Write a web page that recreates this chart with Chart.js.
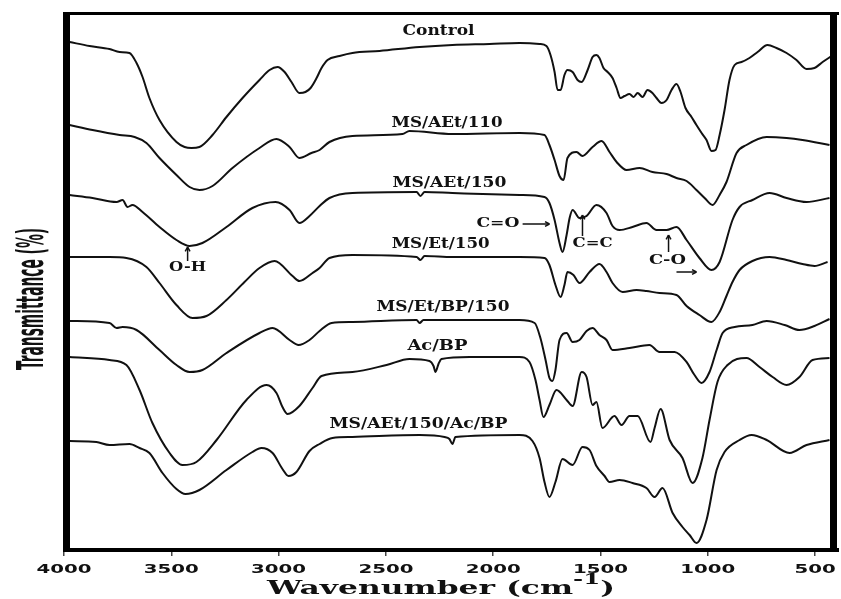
<!DOCTYPE html>
<html><head><meta charset="utf-8">
<script src="https://cdn.jsdelivr.net/npm/chart.js@4/dist/chart.umd.min.js"></script>
<style>html,body{margin:0;padding:0;background:#fff;overflow:hidden}#wrap{width:841px;height:599px}</style>
</head><body><div id="wrap"><canvas id="c" width="841" height="599" style="width:841px;height:599px"></canvas></div>
<script>
// ---- axis ticks ----
const tickValues = [4000, 3500, 3000, 2500, 2000, 1500, 1000, 500];
const tickLabels = ['4000', '3500', '3000', '2500', '2000', '1500', '1000', '500'];
const seriesNames = ['Control', 'MS/AEt/110', 'MS/AEt/150', 'MS/Et/150', 'MS/Et/BP/150', 'Ac/BP', 'MS/AEt/150/Ac/BP'];

// ---- series (wavenumber, offset transmittance) ----
const controlWn = [3974,3881,3788,3741,3695,3662,3634,3602,3555,3476,3438,3406,3369,3308,3243,3168,3089,3042,3005,2972,2940,2903,2875,2851,2823,2800,2772,2716,2656,2530,2343,2190,2017,1877,1784,1752,1733,1714,1700,1686,1668,1654,1630,1607,1588,1560,1537,1519,1505,1486,1467,1444,1425,1407,1388,1365,1346,1327,1304,1281,1258,1239,1216,1192,1169,1146,1127,1104,1076,1053,1029,1006,983,964,945,922,899,875,843,806,768,722,680,633,587,540,503,465,423];
const controlT = [508,504,501,498,497,487,473,452,430,408,403,402,403,415,433,452,470,480,483,478,468,457,458,462,472,482,490,494,497,499,503,505,506,507,506,504,495,478,460,460,475,480,478,470,468,480,493,495,492,482,478,472,462,452,454,456,453,457,453,460,457,452,447,450,460,466,458,442,433,425,417,410,399,400,415,440,470,485,488,492,498,505,502,497,490,481,482,488,494];

const aet110Wn = [3974,3867,3741,3671,3616,3555,3476,3415,3369,3308,3215,3089,3010,2949,2903,2847,2809,2763,2656,2423,2390,2190,1877,1761,1738,1714,1691,1672,1654,1612,1584,1537,1495,1458,1425,1379,1318,1258,1192,1146,1099,1053,1015,978,945,913,866,820,726,633,559,433];
const aet110T = [425,420,415,413,407,392,375,363,360,364,382,402,411,403,392,397,400,408,414,416,419,416,417,415,405,390,374,370,392,398,394,403,409,398,388,380,382,378,376,372,369,360,352,345,355,368,397,405,413,412,410,405];

const aet150Wn = [3974,3867,3755,3727,3704,3681,3634,3555,3476,3415,3355,3243,3122,3014,2949,2903,2856,2809,2763,2656,2357,2339,2320,2190,1877,1761,1738,1714,1691,1677,1658,1644,1630,1598,1565,1519,1472,1444,1411,1351,1286,1239,1192,1146,1099,1039,983,945,885,852,792,712,633,540,433];
const aet150T = [355,352,348,350,343,345,338,323,310,304,307,323,342,348,340,327,334,344,352,357,358,354,358,357,355,353,347,330,307,298,315,332,340,332,334,345,337,324,320,323,327,320,320,323,310,292,280,288,330,343,350,357,352,348,352];

const et150Wn = [3974,3788,3709,3616,3555,3476,3401,3336,3243,3159,3089,3019,2935,2903,2842,2809,2763,2656,2357,2339,2320,2190,1877,1761,1738,1710,1686,1668,1654,1626,1598,1551,1505,1472,1444,1397,1332,1286,1225,1146,1099,1039,983,945,913,885,852,792,712,633,559,503,442];
const et150T = [293,293,292,283,267,245,232,234,250,268,282,289,274,269,277,282,292,295,293,290,294,293,293,292,285,265,253,265,278,275,267,278,286,278,267,258,260,259,257,255,244,235,228,238,254,268,280,289,293,290,286,284,288];

const etBp150Wn = [3974,3788,3755,3727,3662,3555,3476,3415,3355,3243,3089,3028,2949,2907,2856,2809,2753,2656,2357,2343,2325,2190,1877,1807,1780,1756,1738,1724,1710,1691,1658,1630,1598,1565,1537,1505,1472,1444,1365,1272,1225,1155,1099,1062,1029,992,959,931,875,792,726,642,573,503,433];
const etBp150T = [229,227,222,223,220,200,185,178,180,197,217,222,210,205,210,219,227,228,230,227,230,230,230,227,212,190,172,169,180,210,217,208,210,219,222,215,210,200,202,205,198,198,188,175,167,178,200,217,223,225,229,225,220,224,231];

const acBpWn = [3974,3788,3709,3648,3588,3508,3448,3383,3289,3150,3056,3010,2982,2958,2903,2842,2800,2656,2497,2390,2297,2278,2269,2255,2241,2110,1877,1831,1803,1784,1766,1738,1705,1658,1630,1588,1565,1537,1519,1491,1435,1402,1365,1327,1267,1248,1220,1178,1118,1071,1025,992,955,908,820,759,698,633,573,512,433];
const acBpT = [193,190,185,160,127,97,85,88,110,150,165,157,143,136,144,162,174,178,185,191,189,184,178,186,191,193,193,188,170,150,133,145,160,150,144,178,173,145,148,122,134,125,134,134,108,122,141,110,92,67,92,130,168,185,192,183,173,165,173,190,192];

const aetAcBpWn = [3974,3849,3788,3695,3648,3602,3541,3476,3434,3369,3243,3122,3080,3028,2982,2954,2917,2856,2809,2749,2656,2343,2227,2204,2190,2176,1877,1817,1784,1761,1738,1710,1677,1630,1584,1551,1519,1481,1458,1411,1351,1286,1248,1211,1164,1118,1085,1053,1006,959,922,852,796,726,619,540,433];
const aetAcBpT = [109,108,105,106,102,97,77,61,56,60,80,98,102,97,81,74,78,99,106,112,113,115,113,111,106,113,115,109,92,68,53,68,91,85,103,100,84,74,68,70,67,62,53,62,37,23,15,7,30,80,98,110,115,110,97,105,110];

const seriesWn = [controlWn, aet110Wn, aet150Wn, et150Wn, etBp150Wn, acBpWn, aetAcBpWn];
const seriesT = [controlT, aet110T, aet150T, et150T, etBp150T, acBpT, aetAcBpT];

// ---- text annotations (data coordinates) ----
const curveLabels = [
  {text: 'Control', wn: 2255, t: 519, w: 72},
  {text: 'MS/AEt/110', wn: 2215, t: 427, w: 111},
  {text: 'MS/AEt/150', wn: 2204, t: 367, w: 114},
  {text: 'MS/Et/150', wn: 2245, t: 306, w: 98},
  {text: 'MS/Et/BP/150', wn: 2234, t: 243, w: 133},
  {text: 'Ac/BP', wn: 2260, t: 204, w: 60},
  {text: 'MS/AEt/150/Ac/BP', wn: 2348, t: 126, w: 178}
];
const bandLabels = [
  {text: 'O-H', wn: 3424, t: 282, w: 37},
  {text: 'C=O', wn: 1978, t: 326, w: 43},
  {text: 'C=C', wn: 1537, t: 306, w: 40},
  {text: 'C-O', wn: 1188, t: 289, w: 37}
];
const bandArrows = [
  {wn1: 3424, t1: 289, wn2: 3424, t2: 303},
  {wn1: 1863, t1: 326, wn2: 1738, t2: 326},
  {wn1: 1584, t1: 314, wn2: 1584, t2: 335},
  {wn1: 1183, t1: 298, wn2: 1183, t2: 315},
  {wn1: 1146, t1: 278, wn2: 1053, t2: 278}
];

const datasets = seriesNames.map((name, i) => ({
  label: name,
  data: seriesWn[i].map((wn, j) => ({x: wn, y: seriesT[i][j]})),
  borderColor: '#111',
  borderWidth: 2,
  pointRadius: 0,
  fill: false,
  cubicInterpolationMode: 'monotone'
}));

function stretchText(ctx, text, cx, cy, font, targetW) {
  ctx.save();
  ctx.font = font;
  const w = ctx.measureText(text).width;
  ctx.translate(cx, cy);
  ctx.scale(targetW / w, 1);
  ctx.textAlign = 'center';
  ctx.textBaseline = 'middle';
  ctx.fillText(text, 0, 0);
  ctx.restore();
}

const framePlugin = {
  id: 'frame',
  afterDatasetsDraw(chart) {
    const {ctx, chartArea: a} = chart;
    ctx.save();
    ctx.fillStyle = '#000';
    ctx.fillRect(a.left - 1, a.top - 1, 7, a.bottom - a.top + 3);
    ctx.fillRect(a.right - 4, a.top - 1, 7, a.bottom - a.top + 3);
    ctx.fillRect(a.left - 1, a.top - 1, a.right - a.left + 6, 3);
    ctx.fillRect(a.left - 1, a.bottom - 2, a.right - a.left + 6, 4);
    ctx.restore();
  }
};

const textPlugin = {
  id: 'texts',
  afterDraw(chart) {
    const {ctx} = chart;
    const xs = chart.scales.x, ys = chart.scales.y;
    ctx.save();
    ctx.fillStyle = '#111';
    // tick labels
    ctx.font = 'bold 12px "DejaVu Sans"';
    const sx = 55 / ctx.measureText('4000').width;
    xs.ticks.forEach((tk) => {
      const idx = tickValues.indexOf(tk.value);
      if (idx < 0) return;
      const px = xs.getPixelForValue(tk.value);
      ctx.save();
      ctx.translate(px, 573);
      ctx.scale(sx, 1);
      ctx.textAlign = 'center';
      ctx.textBaseline = 'alphabetic';
      ctx.fillText(tickLabels[idx], 0, 0);
      ctx.restore();
    });
    // x title
    ctx.save();
    const f1 = 'bold 18px "DejaVu Serif"', f2 = 'bold 14px "DejaVu Serif"';
    ctx.font = f1;
    const p1 = 'Wavenumber (cm', p3 = ')';
    const w1 = ctx.measureText(p1).width, w3 = ctx.measureText(p3).width;
    ctx.font = f2;
    const w2 = ctx.measureText('-1').width;
    const k = 348 / (w1 + w2 + w3);
    ctx.translate(267, 594);
    ctx.scale(k, 1);
    ctx.textAlign = 'left';
    ctx.textBaseline = 'alphabetic';
    ctx.font = f1; ctx.fillText(p1, 0, 0);
    ctx.font = f2; ctx.fillText('-1', w1, -10);
    ctx.font = f1; ctx.fillText(p3, w1 + w2, 0);
    ctx.restore();
    // y title
    ctx.save();
    ctx.font = 'bold 38px "DejaVu Sans Condensed", "DejaVu Sans"';
    const yt = 'Transmittance (%)';
    const wy = ctx.measureText(yt).width;
    ctx.translate(43, 299);
    ctx.rotate(-Math.PI / 2);
    ctx.scale(142 / wy, 1);
    ctx.textAlign = 'center';
    ctx.textBaseline = 'alphabetic';
    ctx.fillText(yt, 0, 0);
    ctx.restore();
    // curve labels
    curveLabels.forEach(l => stretchText(ctx, l.text, xs.getPixelForValue(l.wn), ys.getPixelForValue(l.t), 'bold 14px "DejaVu Serif"', l.w));
    bandLabels.forEach(l => stretchText(ctx, l.text, xs.getPixelForValue(l.wn), ys.getPixelForValue(l.t), 'bold 13px "DejaVu Serif"', l.w));
    // arrows
    ctx.strokeStyle = '#111';
    ctx.lineWidth = 1.5;
    bandArrows.forEach(a => {
      const x1 = xs.getPixelForValue(a.wn1), y1 = ys.getPixelForValue(a.t1);
      const x2 = xs.getPixelForValue(a.wn2), y2 = ys.getPixelForValue(a.t2);
      ctx.beginPath(); ctx.moveTo(x1, y1); ctx.lineTo(x2, y2); ctx.stroke();
      const ang = Math.atan2(y2 - y1, x2 - x1), h = 5;
      ctx.beginPath();
      ctx.moveTo(x2, y2);
      ctx.lineTo(x2 - h * Math.cos(ang - 0.5), y2 - h * Math.sin(ang - 0.5));
      ctx.moveTo(x2, y2);
      ctx.lineTo(x2 - h * Math.cos(ang + 0.5), y2 - h * Math.sin(ang + 0.5));
      ctx.stroke();
    });
    ctx.restore();
  }
};

new Chart(document.getElementById('c'), {
  type: 'line',
  data: {datasets},
  options: {
    responsive: false,
    animation: false,
    devicePixelRatio: 1,
    layout: {padding: {left: 64, top: 13, right: 7, bottom: 0}},
    plugins: {legend: {display: false}, tooltip: {enabled: false}},
    scales: {
      x: {
        type: 'linear',
        reverse: true,
        min: 412,
        max: 4000,
        afterBuildTicks: (s) => { s.ticks = tickValues.map(v => ({value: v})); },
        afterFit: (s) => { s.height = 49; },
        ticks: {display: false},
        grid: {drawOnChartArea: false, drawTicks: true, tickLength: 6, color: '#444', lineWidth: 1.5},
        border: {display: true, color: '#000', width: 3}
      },
      y: {display: false, min: 0, max: 537}
    }
  },
  plugins: [framePlugin, textPlugin]
});
</script>
</body></html>
